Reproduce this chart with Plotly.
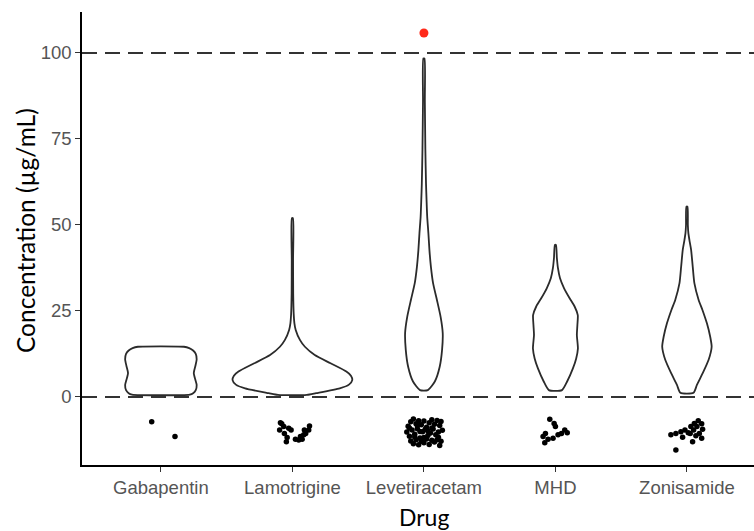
import plotly.graph_objects as go

drugs = ["Gabapentin", "Lamotrigine", "Levetiracetam", "MHD", "Zonisamide"]

# Violin outline profiles: concentration level and half-width (category units)
gaba_y = [0.7, 1.1, 2.0, 3.5, 5.0, 7.0, 9.0, 11.0, 12.5, 13.5, 14.2, 14.6]
gaba_w = [0.22, 0.245, 0.265, 0.272, 0.262, 0.25, 0.262, 0.272, 0.265, 0.245, 0.215, 0.175]

lam_y = [0.6, 1.1, 2.5, 3.6, 4.9, 6.2, 7.4, 9.8, 12.2, 14.6, 16.6, 19.5, 21.5, 24.0, 30.0, 40.0, 52.0]
lam_w = [0.11, 0.18, 0.36, 0.43, 0.455, 0.445, 0.41, 0.29, 0.17, 0.095, 0.057, 0.025, 0.015, 0.01, 0.006, 0.005, 0.004]

lev_y = [2.0, 4.5, 8.8, 13.7, 18.6, 23.3, 28.2, 33.0, 37.9, 42.7, 47.6, 52.4, 57.3, 62.0, 72.0, 86.0, 98.4]
lev_w = [0.03, 0.083, 0.12, 0.138, 0.143, 0.127, 0.099, 0.07, 0.053, 0.042, 0.034, 0.025, 0.02, 0.016, 0.011, 0.007, 0.004]

mhd_y = [2.0, 4.5, 8.3, 11.2, 14.1, 18.0, 20.9, 23.8, 26.3, 28.7, 31.6, 34.5, 37.5, 40.4, 44.2]
mhd_w = [0.05, 0.089, 0.133, 0.158, 0.171, 0.163, 0.167, 0.17, 0.146, 0.108, 0.066, 0.035, 0.019, 0.011, 0.004]

zon_y = [1.2, 3.5, 6.9, 10.8, 14.6, 17.5, 21.4, 25.3, 28.2, 33.0, 37.9, 42.7, 45.6, 47.6, 50.0, 55.3]
zon_w = [0.05, 0.076, 0.12, 0.165, 0.188, 0.177, 0.152, 0.118, 0.089, 0.057, 0.044, 0.032, 0.019, 0.011, 0.007, 0.004]

profiles_y = [gaba_y, lam_y, lev_y, mhd_y, zon_y]
profiles_w = [gaba_w, lam_w, lev_w, mhd_w, zon_w]

# Jittered observations plotted below zero (x = category position with jitter, y = value)
gaba_px = [0.93, 1.107]
gaba_py = [-7.2, -11.5]

lam_px = [1.909, 1.934, 1.903, 1.972, 1.939, 1.954, 2.023, 2.048, 2.074, 2.091, 2.124, 2.086, 2.061, 2.13, 1.99, 1.919, 2.101, 1.96]
lam_py = [-7.5, -8.6, -9.6, -9.1, -10.6, -13.0, -12.3, -12.5, -12.3, -9.6, -9.6, -11.0, -11.5, -8.4, -9.6, -7.8, -10.6, -11.8]

lev_px = [2.88, 2.90, 2.92, 2.94, 2.96, 2.98, 3.00, 3.02, 3.04, 3.06, 3.08, 3.10, 3.12, 3.13,
          2.87, 2.89, 2.91, 2.93, 2.95, 2.97, 2.99, 3.01, 3.03, 3.05, 3.07, 3.09, 3.11, 3.14,
          2.90, 2.92, 2.94, 2.96, 2.98, 3.00, 3.02, 3.04, 3.06, 3.08, 3.10, 3.12, 3.13,
          2.89, 2.95, 3.00, 3.06, 2.93, 3.11, 2.97, 3.03]
lev_py = [-8.5, -7.2, -6.4, -7.8, -6.9, -8.1, -7.0, -8.8, -7.5, -6.6, -7.9, -6.8, -8.3, -7.1,
          -10.2, -11.4, -9.6, -10.8, -9.2, -11.9, -10.1, -9.4, -11.2, -10.5, -9.3, -11.0, -10.2, -9.7,
          -12.8, -13.6, -12.4, -13.9, -12.9, -13.3, -12.2, -13.8, -12.6, -13.1, -12.4, -14.1, -12.9,
          -9.0, -8.3, -11.8, -9.0, -11.6, -11.7, -10.0, -9.9]

mhd_px = [3.957, 3.99, 4.0, 3.924, 3.906, 3.944, 3.919, 4.02, 4.046, 4.071, 4.09, 3.982]
mhd_py = [-6.5, -7.7, -8.6, -10.6, -11.5, -12.3, -13.3, -11.0, -10.6, -9.6, -10.4, -12.0]

zon_px = [4.878, 4.916, 4.954, 4.985, 5.01, 5.03, 5.056, 5.086, 5.112, 5.119, 5.094, 5.068, 5.043, 5.112, 5.025, 5.051, 4.916, 4.967, 5.076]
zon_py = [-11.0, -10.6, -10.1, -9.6, -10.4, -8.6, -7.7, -6.9, -7.8, -9.4, -10.6, -11.3, -13.0, -12.0, -10.6, -9.6, -15.4, -11.7, -8.6]

points_x = gaba_px + lam_px + lev_px + mhd_px + zon_px
points_y = gaba_py + lam_py + lev_py + mhd_py + zon_py

outlier_x = [3]
outlier_y = [105.8]

ref_lines = [0, 100]
y_ticks = [0, 25, 50, 75, 100]

fig = go.Figure()

line_col = "#2b2b2b"
for i, (py, pw) in enumerate(zip(profiles_y, profiles_w)):
    c = i + 1
    xs = [c - w for w in pw] + [c + w for w in reversed(pw)] + [c - pw[0]]
    ys = list(py) + list(reversed(py)) + [py[0]]
    fig.add_trace(go.Scatter(x=xs, y=ys, mode="lines",
                             line=dict(color=line_col, width=1.8, shape="spline", smoothing=0.6),
                             hoverinfo="skip", showlegend=False))

fig.add_trace(go.Scatter(x=points_x, y=points_y, mode="markers",
                         marker=dict(color="black", size=5.5), showlegend=False))
fig.add_trace(go.Scatter(x=outlier_x, y=outlier_y, mode="markers",
                         marker=dict(color="#ff2a1a", size=9), showlegend=False))

for v in ref_lines:
    fig.add_shape(type="line", xref="paper", x0=0, x1=1, yref="y", y0=v, y1=v,
                  line=dict(color="#333333", width=2, dash="15px,8px"), layer="above")

tick_font = dict(family="Liberation Sans, Arial, sans-serif", size=18.5, color="#555555")
fig.update_layout(
    width=754, height=531,
    margin=dict(l=82, r=0, t=12, b=66),
    plot_bgcolor="white", paper_bgcolor="white",
    xaxis=dict(range=[0.4, 5.51], tickvals=[1, 2, 3, 4, 5], ticktext=drugs,
               showgrid=False, zeroline=False, showline=True, linecolor="black", linewidth=1.6,
               ticks="outside", ticklen=5, tickcolor="#333333", tickwidth=1.2, tickfont=tick_font),
    yaxis=dict(range=[-19.77, 111.9], tickvals=y_ticks,
               showgrid=False, zeroline=False, showline=True, linecolor="black", linewidth=1.6,
               ticks="outside", ticklen=5, tickcolor="#333333", tickwidth=1.2, tickfont=tick_font),
    annotations=[
        dict(text="Drug", xref="x", x=3, yref="paper", y=(465 - 517) / 453, yanchor="middle",
             showarrow=False, font=dict(family="Lato, sans-serif", size=23, color="black")),
        dict(text="Concentration (µg/mL)", xref="paper", x=(25 - 82) / 672, xanchor="center",
             yref="paper", y=(465 - 231) / 453, yanchor="middle", textangle=-90,
             showarrow=False, font=dict(family="Lato, sans-serif", size=24.5, color="black")),
    ],
)

fig.write_html("out.html")
